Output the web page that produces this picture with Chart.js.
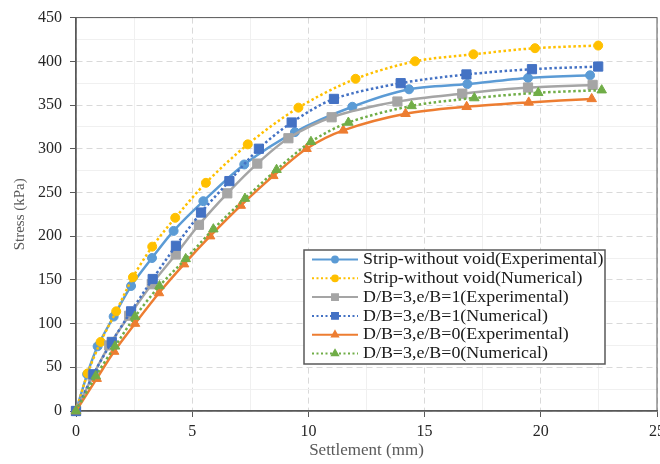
<!DOCTYPE html>
<html>
<head>
<meta charset="utf-8">
<script src="https://cdn.jsdelivr.net/npm/chart.js@4.4.1/dist/chart.umd.min.js"></script>
<style>
  html, body { margin: 0; padding: 0; background: #fff; overflow: hidden; width: 660px; height: 464px; }
  canvas { display: block; }
</style>
</head>
<body>
<canvas id="settlementChart" width="680" height="464"></canvas>
<script>
// series names (legend order)
const seriesNames = [
  'Strip-without void(Experimental)',
  'Strip-without void(Numerical)',
  'D/B=3,e/B=1(Experimental)',
  'D/B=3,e/B=1(Numerical)',
  'D/B=3,e/B=0(Experimental)',
  'D/B=3,e/B=0(Numerical)'
];

// settlement (mm) / stress (kPa)
const stripExpX = [0, 0.48, 0.93, 1.62, 2.37, 3.27, 4.2, 5.48, 7.24, 9.42, 11.89, 14.33, 16.84, 19.45, 22.12];
const stripExpY = [0, 42, 74, 108, 143, 175, 206, 240, 282, 319, 348, 368, 374, 381, 384];

const stripNumX = [0, 0.5, 1.06, 1.73, 2.45, 3.28, 4.27, 5.59, 7.39, 9.57, 12.03, 14.59, 17.1, 19.75, 22.47];
const stripNumY = [0, 43, 79, 114, 153, 188, 221, 261, 305, 347, 380, 400, 408, 415, 418];

const e1ExpX = [0, 0.72, 1.43, 2.29, 3.26, 4.29, 5.29, 6.51, 7.8, 9.14, 11.0, 13.83, 16.62, 19.45, 22.23];
const e1ExpY = [0, 40, 75, 109, 145, 179, 213, 249, 283, 312, 336, 354, 363, 370, 373];

const e1NumX = [0, 0.75, 1.54, 2.37, 3.3, 4.3, 5.38, 6.6, 7.87, 9.28, 11.1, 13.97, 16.8, 19.62, 22.47];
const e1NumY = [0, 42, 79, 114, 151, 189, 227, 263, 300, 330, 357, 375, 385, 391, 394];

const e0ExpX = [0, 0.89, 1.64, 2.54, 3.57, 4.65, 5.77, 7.09, 8.49, 9.92, 11.5, 14.18, 16.81, 19.48, 22.19];
const e0ExpY = [0, 37, 68, 100, 135, 168, 200, 235, 269, 300, 321, 340, 348, 353, 357];

const e0NumX = [0, 0.85, 1.68, 2.54, 3.59, 4.72, 5.91, 7.27, 8.63, 10.11, 11.72, 14.44, 17.14, 19.89, 22.62];
const e0NumY = [0, 40, 74, 108, 143, 174, 208, 243, 276, 308, 330, 349, 358, 364, 367];

const xSeries = [stripExpX, stripNumX, e1ExpX, e1NumX, e0ExpX, e0NumX];
const ySeries = [stripExpY, stripNumY, e1ExpY, e1NumY, e0ExpY, e0NumY];

const colors = ['#5B9BD5', '#FFC000', '#A5A5A5', '#4472C4', '#ED7D31', '#70AD47'];
const markers = ['circle', 'circle', 'rect', 'rect', 'triangle', 'triangle'];
const markerSize = { circle: 4.5, rect: 6.5, triangle: 5.5 };
const dotted = [false, true, false, true, false, true];

const datasets = seriesNames.map((name, i) => ({
  label: name,
  data: xSeries[i].map((x, j) => ({ x: x, y: ySeries[i][j] })),
  borderColor: colors[i],
  backgroundColor: colors[i],
  pointBackgroundColor: colors[i],
  pointBorderColor: colors[i],
  pointStyle: markers[i],
  pointRadius: markerSize[markers[i]],
  pointBorderWidth: 1,
  borderWidth: 2.5,
  borderDash: dotted[i] ? [2.5, 2.5] : [],
  tension: 0.3,
  clip: false,
  order: seriesNames.length - i
}));

const serif = '"Liberation Serif", "Times New Roman", serif';

// plot frame drawn under the series
const plotFrame = {
  id: 'plotFrame',
  beforeDatasetsDraw(chart) {
    const { ctx, chartArea: a } = chart;
    ctx.save();
    ctx.strokeStyle = '#595959';
    ctx.lineWidth = 1;
    ctx.strokeRect(a.left, a.top, a.right - a.left, a.bottom - a.top);
    ctx.restore();
  }
};

// legend box inside the plot, lower right
const boxLegend = {
  id: 'boxLegend',
  afterDraw(chart) {
    const ctx = chart.ctx;
    const left = 304, top = 250, width = 301, height = 114;
    const rowStart = 259.5, rowStep = 18.8;
    ctx.save();
    ctx.fillStyle = '#fff';
    ctx.fillRect(left, top, width, height);
    ctx.strokeStyle = '#595959';
    ctx.lineWidth = 1.5;
    ctx.strokeRect(left, top, width, height);

    seriesNames.forEach((name, i) => {
      const y = rowStart + i * rowStep;
      ctx.save();
      ctx.strokeStyle = colors[i];
      ctx.lineWidth = 2;
      ctx.setLineDash(dotted[i] ? [2, 2.5] : []);
      ctx.beginPath();
      ctx.moveTo(312, y);
      ctx.lineTo(358, y);
      ctx.stroke();
      ctx.restore();

      ctx.save();
      ctx.fillStyle = colors[i];
      ctx.strokeStyle = colors[i];
      Chart.helpers.drawPoint(ctx, {
        pointStyle: markers[i],
        radius: markerSize[markers[i]] * 0.7,
        rotation: 0,
        borderWidth: 1
      }, 335, y);
      ctx.restore();

      ctx.save();
      ctx.fillStyle = '#1a1a1a';
      ctx.font = '16px ' + serif;
      ctx.textBaseline = 'middle';
      ctx.translate(363, y + 0.5);
      ctx.scale(1.12, 1);
      ctx.fillText(name, 0, 0);
      ctx.restore();
    });
    ctx.restore();
  }
};

const ctx = document.getElementById('settlementChart').getContext('2d');

new Chart(ctx, {
  type: 'line',
  data: { datasets: datasets },
  options: {
    responsive: false,
    animation: false,
    events: [],
    layout: { padding: { top: 15, right: 23, left: 0, bottom: 0 } },
    plugins: {
      legend: { display: false },
      tooltip: { enabled: false }
    },
    scales: {
      x: {
        type: 'linear',
        min: 0,
        max: 25,
        afterFit: (scale) => { scale.height = 53; },
        ticks: {
          stepSize: 2.5,
          autoSkip: false,
          maxRotation: 0,
          padding: 5,
          color: '#262626',
          font: { family: serif, size: 16 },
          callback: (v) => (v % 5 === 0 ? v : '')
        },
        grid: {
          color: (c) => (c.tick && c.tick.value % 5 === 0 ? '#D9D9D9' : '#F0F0F0'),
          tickColor: (c) => (c.tick && c.tick.value % 5 === 0 ? '#595959' : 'rgba(0,0,0,0)'),
          tickLength: 6,
          lineWidth: 1
        },
        border: {
          color: '#595959',
          width: 1.5,
          dash: (c) => (c.tick && c.tick.value % 5 === 0 ? [6, 4] : [])
        },
        title: {
          display: true,
          text: 'Settlement (mm)',
          color: '#595959',
          font: { family: serif, size: 17 },
          padding: { top: 0, bottom: 3 }
        }
      },
      y: {
        min: 0,
        max: 450,
        afterFit: (scale) => { scale.width = 76; },
        ticks: {
          stepSize: 25,
          autoSkip: false,
          padding: 8,
          color: '#262626',
          font: { family: serif, size: 16 },
          callback: (v) => (v % 50 === 0 ? v : '')
        },
        grid: {
          color: (c) => (c.tick && c.tick.value % 50 === 0 ? '#D9D9D9' : '#F0F0F0'),
          tickColor: (c) => (c.tick && c.tick.value % 50 === 0 ? '#595959' : 'rgba(0,0,0,0)'),
          tickLength: 6,
          lineWidth: 1
        },
        border: {
          color: '#595959',
          width: 1.5,
          dash: (c) => (c.tick && c.tick.value % 50 === 0 ? [6, 4] : [])
        },
        title: {
          display: true,
          text: 'Stress (kPa)',
          color: '#595959',
          font: { family: serif, size: 15 },
          padding: { top: 11, bottom: 0 }
        }
      }
    }
  },
  plugins: [plotFrame, boxLegend]
});
</script>
</body>
</html>
